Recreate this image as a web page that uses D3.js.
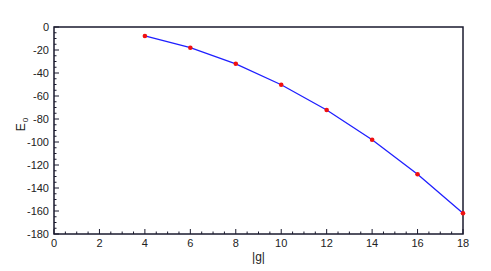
<!DOCTYPE html>
<meta charset="utf-8">
<style>
body { margin: 0; background: #fff; }
text { font-family: "Liberation Sans", Arial, sans-serif; }
</style>
<body>
<div id="chart"></div>
<script src="https://cdn.jsdelivr.net/npm/d3@7"></script>
<script>
// data
var gValues = [4, 6, 8, 10, 12, 14, 16, 18];
var e0Values = [-7.8, -18, -32, -50.2, -72.2, -98, -128, -162];
var xTicks = [0, 2, 4, 6, 8, 10, 12, 14, 16, 18];
var yTicks = [0, -20, -40, -60, -80, -100, -120, -140, -160, -180];

var W = 491, H = 271;
var margin = {top: 27, right: 28, bottom: 37, left: 54},
    width = W - margin.left - margin.right,
    height = H - margin.top - margin.bottom;

var x = d3.scaleLinear().domain([0, 18]).range([0, width]);
var y = d3.scaleLinear().domain([-180, 0]).range([height, 0]);

var svg = d3.select("#chart").append("svg")
    .attr("width", W).attr("height", H)
  .append("g")
    .attr("transform", "translate(" + margin.left + "," + margin.top + ")");

var axisColor = "#1a1a2e";

// minor ticks
var xMinor = d3.range(0, 18.01, 0.5).filter(function(d) { return d % 2 !== 0; });
var yMinor = d3.range(-180, 0.01, 5).filter(function(d) { return d % 20 !== 0; });

svg.selectAll(".xminor").data(xMinor).enter().append("line")
    .attr("x1", function(d) { return x(d); }).attr("x2", function(d) { return x(d); })
    .attr("y1", height).attr("y2", height - 2.5)
    .attr("stroke", axisColor).attr("stroke-width", 1);
svg.selectAll(".xmajor").data(xTicks).enter().append("line")
    .attr("x1", function(d) { return x(d); }).attr("x2", function(d) { return x(d); })
    .attr("y1", height).attr("y2", height - 5)
    .attr("stroke", axisColor).attr("stroke-width", 1);
svg.selectAll(".yminor").data(yMinor).enter().append("line")
    .attr("y1", function(d) { return y(d); }).attr("y2", function(d) { return y(d); })
    .attr("x1", 0).attr("x2", 2.5)
    .attr("stroke", axisColor).attr("stroke-width", 1);
svg.selectAll(".ymajor").data(yTicks).enter().append("line")
    .attr("y1", function(d) { return y(d); }).attr("y2", function(d) { return y(d); })
    .attr("x1", 0).attr("x2", 5)
    .attr("stroke", axisColor).attr("stroke-width", 1);

// tick labels
svg.selectAll(".xlab").data(xTicks).enter().append("text")
    .attr("x", function(d) { return x(d); })
    .attr("y", height + 13)
    .attr("text-anchor", "middle")
    .attr("font-size", 11)
    .attr("fill", "#222")
    .text(function(d) { return d; });
svg.selectAll(".ylab").data(yTicks).enter().append("text")
    .attr("x", -5)
    .attr("y", function(d) { return y(d) + 4; })
    .attr("text-anchor", "end")
    .attr("font-size", 11)
    .attr("fill", "#222")
    .text(function(d) { return d; });

// frame
svg.append("rect")
    .attr("x", 0).attr("y", 0)
    .attr("width", width).attr("height", height)
    .attr("fill", "none")
    .attr("stroke", axisColor).attr("stroke-width", 1.5);

// line
var pts = d3.zip(gValues, e0Values);
svg.append("path")
    .attr("d", d3.line().x(function(d) { return x(d[0]); }).y(function(d) { return y(d[1]); })(pts))
    .attr("fill", "none").attr("stroke", "#1f1fff").attr("stroke-width", 1.3);

svg.selectAll(".pt").data(pts).enter().append("circle")
    .attr("cx", function(d) { return x(d[0]); })
    .attr("cy", function(d) { return y(d[1]); })
    .attr("r", 2.3)
    .attr("fill", "#f01010");

// axis titles
svg.append("text")
    .attr("x", width / 2)
    .attr("y", height + 27)
    .attr("text-anchor", "middle")
    .attr("font-size", 12)
    .attr("fill", "#222")
    .text("|g|");

var yt = svg.append("text")
    .attr("transform", "translate(" + (-29) + "," + (height / 2 - 6) + ") rotate(-90)")
    .attr("text-anchor", "middle")
    .attr("font-size", 12)
    .attr("fill", "#222");
yt.append("tspan").text("E");
yt.append("tspan").attr("font-size", 8).attr("dx", 1).attr("dy", 3).text("0");
</script>
</body>
